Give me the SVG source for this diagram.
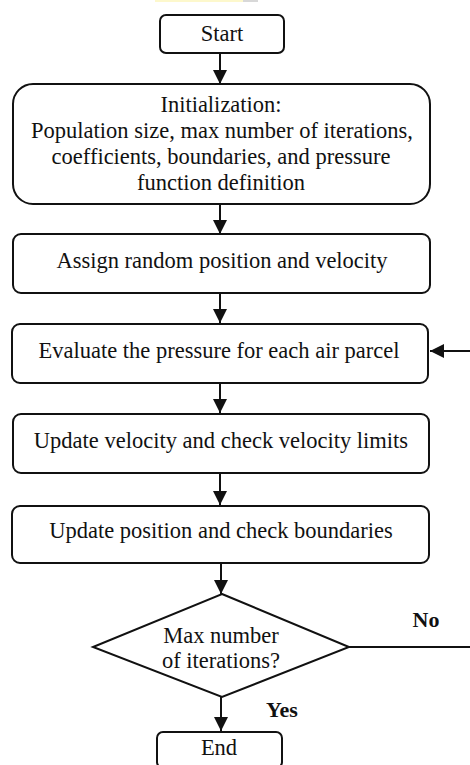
<svg xmlns="http://www.w3.org/2000/svg" width="470" height="765" viewBox="0 0 470 765">
  <style>
    .box { fill: #ffffff; stroke: #111111; stroke-width: 2; }
    .lbl { font-family: "Liberation Serif", "Times New Roman", serif; font-size: 22.5px; fill: #111111; text-anchor: middle; }
    .tag { font-family: "Liberation Serif", "Times New Roman", serif; font-size: 22px; font-weight: bold; fill: #111111; text-anchor: middle; }
    .wire { fill: none; stroke: #111111; stroke-width: 2; }
  </style>
  <defs>
    <marker id="head" markerWidth="14" markerHeight="14" viewBox="0 0 14 14" refX="14" refY="7" orient="auto" markerUnits="userSpaceOnUse">
      <path d="M0,0 L14,7 L0,14 Z" fill="#111111"/>
    </marker>
  </defs>

  <rect width="470" height="765" fill="#ffffff"/>
  <!-- faint strip along the top edge -->
  <rect x="155" y="0" width="88" height="2" fill="#fdf8cc"/>
  <rect x="243" y="0" width="15" height="2" fill="#d8d8d8"/>

  <g id="connectors">
    <line class="wire" x1="220" y1="53" x2="220" y2="84" marker-end="url(#head)"/>
    <line class="wire" x1="220" y1="204" x2="220" y2="234" marker-end="url(#head)"/>
    <line class="wire" x1="220" y1="293" x2="220" y2="323" marker-end="url(#head)"/>
    <line class="wire" x1="220" y1="383" x2="220" y2="413" marker-end="url(#head)"/>
    <line class="wire" x1="220" y1="473" x2="220" y2="505" marker-end="url(#head)"/>
    <line class="wire" x1="221" y1="563" x2="221" y2="594" marker-end="url(#head)"/>
    <line class="wire" x1="221" y1="697" x2="221" y2="731" marker-end="url(#head)"/>
    <line class="wire" x1="349" y1="647" x2="472" y2="647"/>
    <line class="wire" x1="472" y1="351" x2="430" y2="351" marker-end="url(#head)"/>
    <text class="tag" x="426" y="627">No</text>
    <text class="tag" x="282" y="717">Yes</text>
  </g>

  <g id="start">
    <rect class="box" x="160" y="15" width="124" height="38" rx="6"/>
    <text class="lbl" x="222" y="41">Start</text>
  </g>

  <g id="init">
    <rect class="box" x="13" y="84" width="417" height="120" rx="20"/>
    <text class="lbl" x="221" y="112">Initialization:</text>
    <text class="lbl" x="222" y="138">Population size, max number of iterations,</text>
    <text class="lbl" x="221" y="164">coefficients, boundaries, and pressure</text>
    <text class="lbl" x="221" y="190">function definition</text>
  </g>

  <g id="assign">
    <rect class="box" x="13" y="234" width="417" height="59" rx="8"/>
    <text class="lbl" x="222" y="268">Assign random position and velocity</text>
  </g>

  <g id="evaluate">
    <rect class="box" x="12" y="324" width="416" height="59" rx="8"/>
    <text class="lbl" x="219" y="358">Evaluate the pressure for each air parcel</text>
  </g>

  <g id="velocity">
    <rect class="box" x="13" y="414" width="416" height="59" rx="8"/>
    <text class="lbl" x="221" y="448">Update velocity and check velocity limits</text>
  </g>

  <g id="position">
    <rect class="box" x="12" y="506" width="417" height="57" rx="8"/>
    <text class="lbl" x="221" y="538">Update position and check boundaries</text>
  </g>

  <g id="decision">
    <polygon class="box" points="222,594 349,647 222,697 93,647"/>
    <text class="lbl" x="221" y="643">Max number</text>
    <text class="lbl" x="221" y="668">of iterations?</text>
  </g>

  <g id="end">
    <rect class="box" x="157" y="732" width="125" height="36" rx="6"/>
    <text class="lbl" x="219" y="755">End</text>
  </g>
</svg>
